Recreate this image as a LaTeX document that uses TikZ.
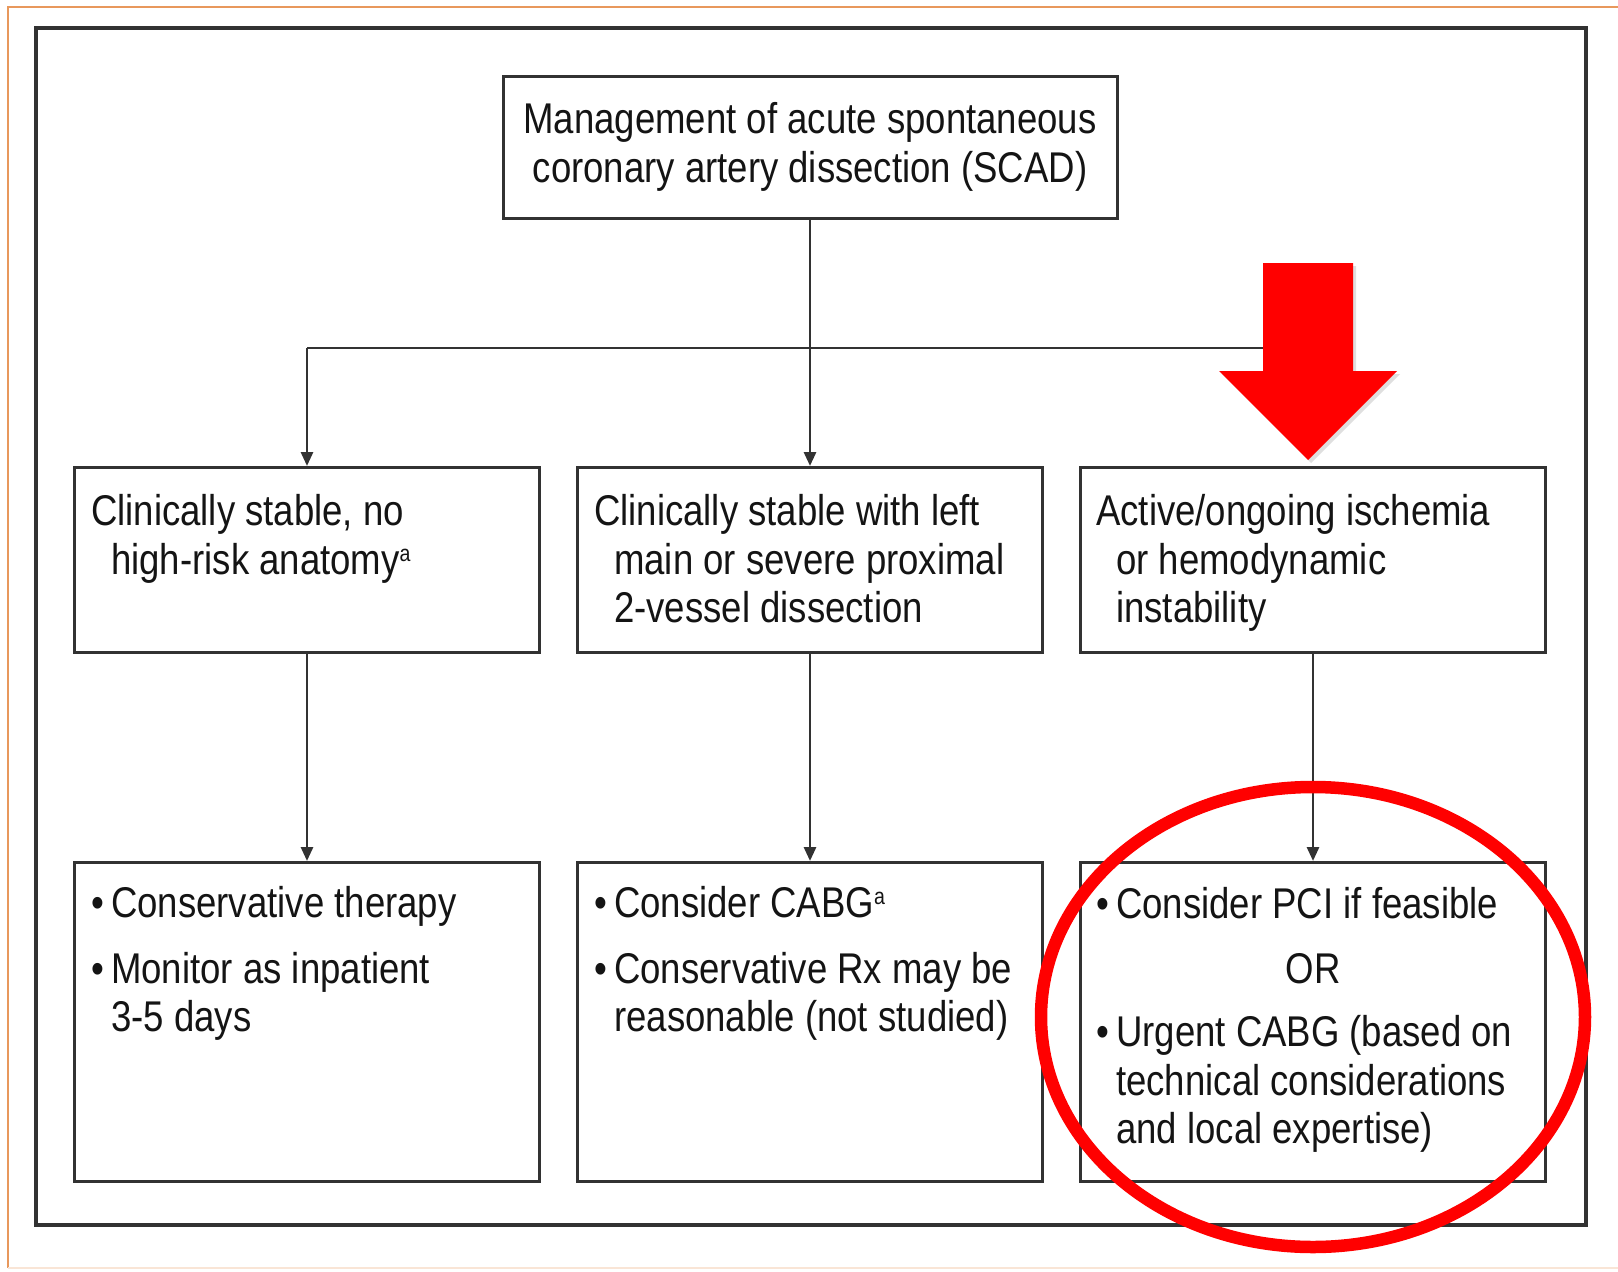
\documentclass[tikz,border=0pt]{standalone}
\usepackage{fontspec}
\setmainfont{Liberation Sans}[FakeStretch=0.85]
\usetikzlibrary{arrows.meta,positioning,calc,shadows}
\definecolor{framegray}{RGB}{50,50,50}
\definecolor{pageorange}{RGB}{232,152,92}
\tikzset{
  blk/.style={draw=framegray,rectangle,line width=3pt,minimum width=465pt,inner sep=0pt},
  hdrblk/.style={blk,minimum width=614pt,minimum height=142pt,align=center},
  condblk/.style={blk,minimum height=185pt},
  actblk/.style={blk,minimum height=319pt},
  txt/.style={anchor=north west,inner sep=0pt,align=left},
  arr/.style={-{Triangle[width=12pt,length=14pt]},line width=2.8pt,draw=framegray},
  lne/.style={line width=2.8pt,draw=framegray},
  bigarr/.style={fill=red,drop shadow={opacity=0.25,shadow xshift=3pt,shadow yshift=-3pt}},
  ring/.style={draw=red,line width=12.5pt}
}
\newcommand{\blt}{\makebox[20pt][l]{\textbullet}}
\newcommand{\ind}{\hspace*{20pt}}
\newcommand{\fnmark}{\raisebox{13pt}{\fontsize{23pt}{23pt}\selectfont a}}
\begin{document}
\begin{tikzpicture}[x=1pt,y=-1pt,node distance=35pt and 35pt,
  every node/.style={font=\fontsize{43pt}{48.3pt}\selectfont,text=black!92}]
  \useasboundingbox (0,0) rectangle (1618,1272);
  \fill[white] (0,0) rectangle (1618,1272);
  \draw[pageorange,line width=2pt] (1640,7) -- (8,7) -- (8,1268);
  \draw[pageorange!25,line width=2pt] (8,1268) -- (1640,1268);
  \draw[framegray,line width=3.4pt] (36,28) rectangle (1586,1225);

  \node[hdrblk] (hdr) at (810,147) {Management of acute spontaneous\\coronary artery dissection (SCAD)};
  \node[condblk] (mid) at (810,560) {};
  \node[condblk, left=of mid] (stab) {};
  \node[condblk, right=of mid] (isch) {};
  \node[actblk, below=207pt of stab] (cons) {};
  \node[actblk, below=207pt of mid] (cabg) {};
  \node[actblk, below=207pt of isch] (pci) {};

  \node[txt] (stabtx) at ([xshift=18pt,yshift=-28.5pt]stab.north west) {Clinically stable, no\\\ind high-risk anatomy\fnmark};
  \node[txt] (midtx) at ([xshift=18pt,yshift=-28.5pt]mid.north west) {Clinically stable with left\\\ind main or severe proximal\\\ind 2-vessel dissection};
  \node[txt] (ischtx) at ([xshift=17pt,yshift=-28.5pt]isch.north west) {Active/ongoing ischemia\\\ind or hemodynamic\\\ind instability};

  \node[txt] (constx) at ([xshift=18pt,yshift=-25.5pt]cons.north west) {\blt Conservative therapy\\[17pt]\blt Monitor as inpatient\\\ind 3-5 days};
  \node[txt] (cabgtx) at ([xshift=18pt,yshift=-25.5pt]cabg.north west) {\blt Consider CABG\fnmark\\[17pt]\blt Conservative Rx may be\\\ind reasonable (not studied)};
  \node[txt] (pcitx) at ([xshift=17pt,yshift=-26.5pt]pci.north west) {\blt Consider PCI if feasible};
  \node[anchor=base,inner sep=0pt] (ortx) at ([yshift=-122.5pt]pci.north) {OR};
  \node[txt] (urgtx) at ([xshift=17pt,yshift=-154.5pt]pci.north west) {\blt Urgent CABG (based on\\\ind technical considerations\\\ind and local expertise)};

  \coordinate (jn) at (810,348);
  \coordinate (jl) at (stab.north |- jn);
  \coordinate (jr) at (isch.north |- jn);
  \draw[lne] (hdr.south) -- (jn);
  \draw[lne] (jl) -- (jr);
  \draw[arr] (jn) -- (mid.north);
  \draw[arr] (jl) -- (stab.north);
  \draw[arr] (stab.south) -- (cons.north);
  \draw[arr] (mid.south) -- (cabg.north);
  \draw[arr] (isch.south) -- (pci.north);

  \fill[bigarr] (1263,263) -- (1353,263) -- (1353,371) -- (1397,371) -- (1308,460) -- (1219,371) -- (1263,371) -- cycle;
  \draw[ring] (1313,1017) ellipse [x radius=272pt, y radius=230pt];
\end{tikzpicture}
\end{document}
